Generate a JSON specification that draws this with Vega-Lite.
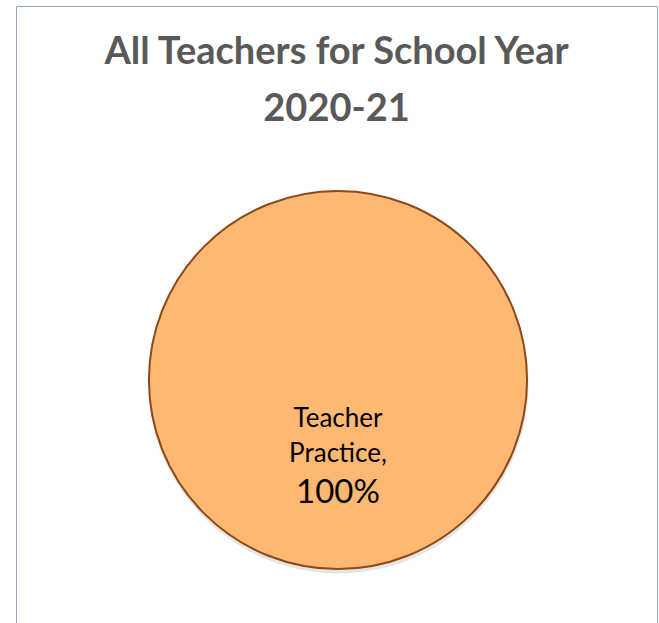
{
  "$schema": "https://vega.github.io/schema/vega-lite/v6.json",
  "autosize": {"type": "none"},
  "width": 641,
  "height": 617,
  "padding": {"left": 16, "top": 6, "right": 2, "bottom": 0},
  "background": "white",
  "view": {"stroke": "#8FA8C8", "strokeWidth": 1},
  "config": {
    "view": {"stroke": "#8FA8C8", "strokeWidth": 1},
    "font": "Lato"
  },
  "title": {
    "text": ["All Teachers for School Year", "2020-21"],
    "anchor": "middle",
    "frame": "group",
    "orient": "top",
    "baseline": "alphabetic",
    "offset": -60,
    "dy": 93,
    "lineHeight": 57,
    "font": "Lato",
    "fontSize": 38,
    "fontWeight": "bold",
    "color": "#595959"
  },
  "data": {"values": [{"category": "Teacher Practice,", "percent": "100%", "value": 100}]},
  "layer": [
    {
      "mark": {"type": "arc", "radius": 190, "fill": "#000000", "fillOpacity": 0.1, "xOffset": 2, "yOffset": 69},
      "encoding": {"theta": {"field": "value", "type": "quantitative"}}
    },
    {
      "mark": {"type": "arc", "radius": 189, "fill": "#FDB874", "stroke": "#8B4A16", "strokeWidth": 2, "xOffset": 1.5, "yOffset": 65.5},
      "encoding": {"theta": {"field": "value", "type": "quantitative"}}
    },
    {
      "mark": {"type": "text", "lineBreak": " ", "fontSize": 26, "lineHeight": 35, "color": "#000000", "align": "center", "baseline": "alphabetic", "xOffset": 1.5, "yOffset": 112.5},
      "encoding": {"text": {"field": "category"}}
    },
    {
      "mark": {"type": "text", "fontSize": 33, "color": "#000000", "align": "center", "baseline": "alphabetic", "xOffset": 1.5, "yOffset": 188.5},
      "encoding": {"text": {"field": "percent"}}
    }
  ]
}
